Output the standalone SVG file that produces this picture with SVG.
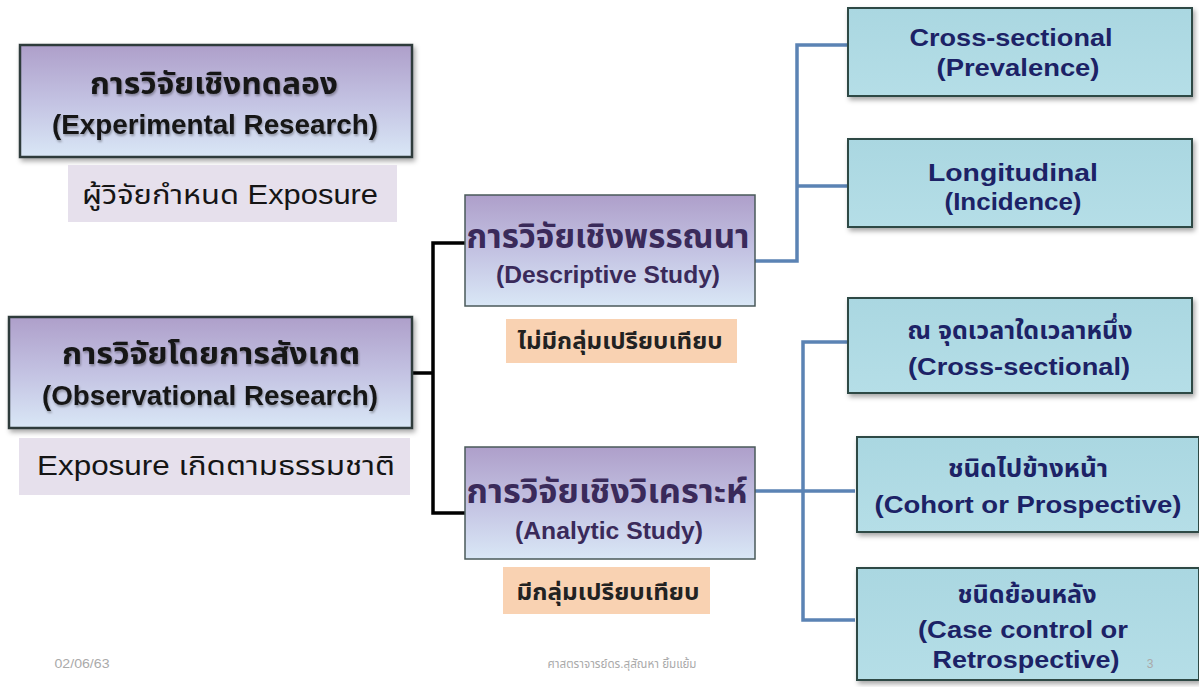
<svg xmlns="http://www.w3.org/2000/svg" width="1199" height="687" viewBox="0 0 1199 687">
<defs>
<linearGradient id="gMain" x1="0" y1="0" x2="0" y2="1">
<stop offset="0" stop-color="#ae9fca"/>
<stop offset="0.5" stop-color="#c3c2e2"/>
<stop offset="1" stop-color="#d9e7f6"/>
</linearGradient>
<linearGradient id="gTeal" x1="0" y1="0" x2="0" y2="1">
<stop offset="0" stop-color="#aad7e1"/>
<stop offset="1" stop-color="#b5dee7"/>
</linearGradient>
<filter id="sh" x="-10%" y="-10%" width="125%" height="130%">
<feDropShadow dx="2" dy="3" stdDeviation="2.5" flood-color="#000" flood-opacity="0.35"/>
</filter>
<filter id="tsh" x="-5%" y="-20%" width="110%" height="150%">
<feDropShadow dx="1" dy="2" stdDeviation="1" flood-color="#000" flood-opacity="0.3"/>
</filter>
</defs>
<style>
.big{fill:url(#gMain);stroke:#2f3b3b;stroke-width:2.5}
.mid{fill:url(#gMain);stroke:#4a5a5a;stroke-width:1.5}
.teal{fill:url(#gTeal);stroke:#2e4a44;stroke-width:2}
.note{fill:#e6e0ec}
.orange{fill:#f9d2b2}
text{font-family:"Liberation Sans","Noto Sans Thai",sans-serif;text-anchor:middle}
.tbt{font-weight:bold;font-size:30px;fill:#151515}
.tb{font-weight:bold;font-size:27px;fill:#151515}
.tn{font-size:27px;fill:#151515}
.tmt{font-weight:bold;font-size:33px;fill:#3a2a5a}
.tms{font-weight:bold;font-size:24px;fill:#3a2a5a}
.trt{font-weight:bold;font-size:25px;fill:#1c2266}
.tr{font-weight:bold;font-size:23px;fill:#1c2266}
.to{font-weight:bold;font-size:23px;fill:#222}
.foot{font-size:12px;fill:#aaa}
.blk{fill:none;stroke:#000;stroke-width:3.5}
.blu{fill:none;stroke:#5b83b4;stroke-width:3.5}
</style>
<rect width="1199" height="687" fill="#fff"/>
<g id="connectors">
<path class="blk" d="M412 373 H433 M465 243 H433 V513 H465"/>
<path class="blu" d="M755 261 H797 V45 H848 M797 186 H848"/>
<path class="blu" d="M755 491 H855 M848 342 H803 V620 H855"/>
</g>
<g id="experimental">
<rect class="big" x="20" y="45" width="392" height="112" filter="url(#sh)"/>
<text class="tbt" x="214" y="94" textLength="248" lengthAdjust="spacingAndGlyphs" filter="url(#tsh)">การวิจัยเชิงทดลอง</text>
<text class="tb" x="215" y="134" textLength="326" lengthAdjust="spacingAndGlyphs" filter="url(#tsh)">(Experimental Research)</text>
</g>
<g id="experimental-note">
<rect class="note" x="68" y="165" width="329" height="57"/>
<text class="tn" x="230" y="204" textLength="296" lengthAdjust="spacingAndGlyphs">ผู้วิจัยกำหนด Exposure</text>
</g>
<g id="observational">
<rect class="big" x="9" y="317" width="403" height="111" filter="url(#sh)"/>
<text class="tbt" x="211" y="364" textLength="298" lengthAdjust="spacingAndGlyphs" filter="url(#tsh)">การวิจัยโดยการสังเกต</text>
<text class="tb" x="210" y="405" textLength="336" lengthAdjust="spacingAndGlyphs" filter="url(#tsh)">(Observational Research)</text>
</g>
<g id="observational-note">
<rect class="note" x="19" y="438" width="391" height="57"/>
<text class="tn" x="216" y="475" textLength="358" lengthAdjust="spacingAndGlyphs">Exposure เกิดตามธรรมชาติ</text>
</g>
<g id="descriptive">
<rect class="mid" x="465" y="195" width="290" height="111"/>
<text class="tmt" x="608" y="248" textLength="283" lengthAdjust="spacingAndGlyphs">การวิจัยเชิงพรรณนา</text>
<text class="tms" x="608" y="283" textLength="224" lengthAdjust="spacingAndGlyphs">(Descriptive Study)</text>
</g>
<g id="descriptive-note">
<rect class="orange" x="506" y="319" width="231" height="44"/>
<text class="to" x="620" y="349" textLength="205" lengthAdjust="spacingAndGlyphs">ไม่มีกลุ่มเปรียบเทียบ</text>
</g>
<g id="analytic">
<rect class="mid" x="465" y="447" width="290" height="112"/>
<text class="tmt" x="607" y="503" textLength="281" lengthAdjust="spacingAndGlyphs">การวิจัยเชิงวิเคราะห์</text>
<text class="tms" x="609" y="539" textLength="188" lengthAdjust="spacingAndGlyphs">(Analytic Study)</text>
</g>
<g id="analytic-note">
<rect class="orange" x="503" y="567" width="207" height="47"/>
<text class="to" x="608" y="600" textLength="183" lengthAdjust="spacingAndGlyphs">มีกลุ่มเปรียบเทียบ</text>
</g>
<g id="cross-prevalence">
<rect class="teal" x="848" y="8" width="344" height="88" filter="url(#sh)"/>
<text class="tr" x="1011" y="46" textLength="203" lengthAdjust="spacingAndGlyphs">Cross-sectional</text>
<text class="tr" x="1018" y="76" textLength="163" lengthAdjust="spacingAndGlyphs">(Prevalence)</text>
</g>
<g id="longitudinal">
<rect class="teal" x="848" y="139" width="344" height="88" filter="url(#sh)"/>
<text class="tr" x="1013" y="181" textLength="170" lengthAdjust="spacingAndGlyphs">Longitudinal</text>
<text class="tr" x="1013" y="210" textLength="137" lengthAdjust="spacingAndGlyphs">(Incidence)</text>
</g>
<g id="cross-sectional">
<rect class="teal" x="848" y="298" width="344" height="95" filter="url(#sh)"/>
<text class="trt" x="1020" y="339" textLength="225" lengthAdjust="spacingAndGlyphs">ณ จุดเวลาใดเวลาหนึ่ง</text>
<text class="tr" x="1019" y="375" textLength="222" lengthAdjust="spacingAndGlyphs">(Cross-sectional)</text>
</g>
<g id="cohort">
<rect class="teal" x="857" y="437" width="342" height="95" filter="url(#sh)"/>
<text class="trt" x="1028" y="477" textLength="160" lengthAdjust="spacingAndGlyphs">ชนิดไปข้างหน้า</text>
<text class="tr" x="1028" y="513" textLength="307" lengthAdjust="spacingAndGlyphs">(Cohort or Prospective)</text>
</g>
<g id="case-control">
<rect class="teal" x="857" y="568" width="342" height="112" filter="url(#sh)"/>
<text class="trt" x="1027" y="603" textLength="139" lengthAdjust="spacingAndGlyphs">ชนิดย้อนหลัง</text>
<text class="tr" x="1023" y="638" textLength="210" lengthAdjust="spacingAndGlyphs">(Case control or</text>
<text class="tr" x="1026" y="668" textLength="187" lengthAdjust="spacingAndGlyphs">Retrospective)</text>
<text class="foot" x="1150" y="668">3</text>
</g>
<g id="footer">
<text class="foot" x="82" y="668" textLength="55" lengthAdjust="spacingAndGlyphs">02/06/63</text>
<text class="foot" x="622" y="668" textLength="149" lengthAdjust="spacingAndGlyphs">ศาสตราจารย์ดร.สุสัณหา ยิ้มแย้ม</text>
</g>
</svg>
